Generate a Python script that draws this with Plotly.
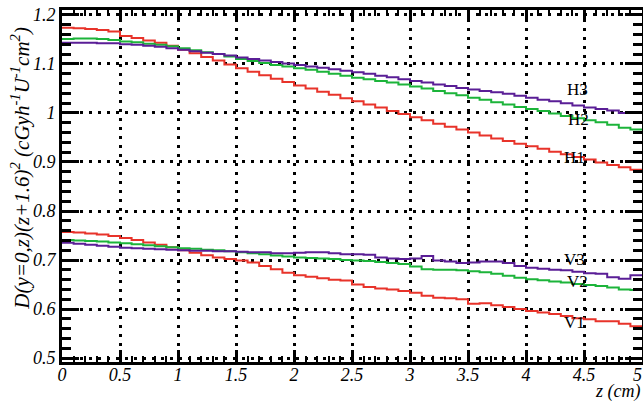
import numpy as np
import plotly.graph_objects as go

# Bin lower edges (bin width 0.1 cm) from 0 to 5 cm
z_edges = np.round(np.arange(0, 5.0001, 0.1), 2).tolist()

x_tick_vals = [0, 0.5, 1, 1.5, 2, 2.5, 3, 3.5, 4, 4.5, 5]
x_tick_text = ["0", "0.5", "1", "1.5", "2", "2.5", "3", "3.5", "4", "4.5", "5\u2002"]

H1 = [1.174, 1.173, 1.171, 1.169, 1.166, 1.157, 1.153, 1.148, 1.143, 1.137,
      1.129, 1.122, 1.114, 1.107, 1.099, 1.091, 1.084, 1.077, 1.070, 1.063,
      1.056, 1.050, 1.043, 1.037, 1.030, 1.024, 1.017, 1.011, 1.004, 0.998,
      0.991, 0.985, 0.978, 0.972, 0.966, 0.960, 0.954, 0.948, 0.943, 0.937,
      0.932, 0.927, 0.921, 0.916, 0.910, 0.905, 0.899, 0.894, 0.889, 0.884]
H2 = [1.151, 1.152, 1.152, 1.151, 1.149, 1.146, 1.144, 1.141, 1.139, 1.136,
      1.132, 1.128, 1.124, 1.120, 1.115, 1.110, 1.106, 1.102, 1.098, 1.095,
      1.091, 1.088, 1.084, 1.080, 1.076, 1.072, 1.069, 1.065, 1.062, 1.058,
      1.054, 1.050, 1.045, 1.040, 1.036, 1.031, 1.027, 1.022, 1.017, 1.012,
      1.008, 1.004, 0.999, 0.994, 0.989, 0.985, 0.981, 0.976, 0.970, 0.966]
H3 = [1.143, 1.143, 1.143, 1.142, 1.142, 1.140, 1.139, 1.137, 1.135, 1.132,
      1.129, 1.126, 1.123, 1.120, 1.117, 1.113, 1.110, 1.107, 1.104, 1.101,
      1.098, 1.095, 1.092, 1.089, 1.086, 1.083, 1.080, 1.076, 1.073, 1.069,
      1.065, 1.062, 1.058, 1.055, 1.051, 1.048, 1.045, 1.042, 1.039, 1.035,
      1.031, 1.027, 1.024, 1.020, 1.015, 1.011, 1.008, 1.005, 1.000, 1.001]
V1 = [0.757, 0.756, 0.754, 0.752, 0.749, 0.745, 0.741, 0.736, 0.731, 0.726,
      0.720, 0.715, 0.710, 0.705, 0.702, 0.699, 0.695, 0.688, 0.681, 0.674,
      0.669, 0.666, 0.663, 0.660, 0.658, 0.650, 0.645, 0.642, 0.640, 0.637,
      0.633, 0.627, 0.623, 0.622, 0.620, 0.611, 0.612, 0.608, 0.604, 0.600,
      0.596, 0.593, 0.590, 0.586, 0.581, 0.579, 0.575, 0.575, 0.570, 0.565]
V2 = [0.741, 0.740, 0.739, 0.738, 0.736, 0.734, 0.732, 0.730, 0.728, 0.726,
      0.724, 0.723, 0.721, 0.720, 0.718, 0.716, 0.714, 0.712, 0.709, 0.707,
      0.705, 0.704, 0.703, 0.702, 0.700, 0.699, 0.698, 0.696, 0.694, 0.692,
      0.687, 0.681, 0.680, 0.680, 0.679, 0.677, 0.675, 0.672, 0.668, 0.664,
      0.661, 0.659, 0.656, 0.654, 0.651, 0.649, 0.647, 0.644, 0.640, 0.639]
V3 = [0.735, 0.733, 0.731, 0.729, 0.727, 0.725, 0.724, 0.723, 0.722, 0.721,
      0.720, 0.719, 0.719, 0.718, 0.718, 0.717, 0.716, 0.716, 0.714, 0.714,
      0.715, 0.716, 0.716, 0.714, 0.712, 0.712, 0.711, 0.705, 0.703, 0.702,
      0.703, 0.708, 0.699, 0.697, 0.694, 0.695, 0.697, 0.697, 0.694, 0.688,
      0.684, 0.682, 0.680, 0.679, 0.676, 0.673, 0.672, 0.665, 0.662, 0.669]

series_names = ["H1", "H2", "H3", "V1", "V2", "V3"]
series_vals = [H1, H2, H3, V1, V2, V3]
series_colors = ["#e8332a", "#1cb43a", "#5a1e96", "#e8332a", "#1cb43a", "#5a1e96"]

# label anchor (z, value) for the text labels
label_pos = {"H3": (4.44, 1.048), "H2": (4.45, 0.986), "H1": (4.42, 0.910),
             "V3": (4.42, 0.701), "V2": (4.44, 0.656), "V1": (4.42, 0.573)}

serif = "Liberation Serif"

fig = go.Figure()
for name, vals, col in zip(series_names, series_vals, series_colors):
    fig.add_trace(go.Scatter(
        x=z_edges, y=vals + [vals[-1]], mode="lines",
        line=dict(shape="hv", color=col, width=2),
        name=name, showlegend=False, cliponaxis=True))
    lx, ly = label_pos[name]
    fig.add_annotation(x=lx, y=ly, text=name, showarrow=False,
                       font=dict(family=serif, size=17, color="black"),
                       xanchor="center", yanchor="middle")

axis_common = dict(
    showline=True, linecolor="black", linewidth=3, mirror="ticks",
    ticks="inside", tickcolor="black", tickwidth=2.5,
    showgrid=True, gridcolor="black", gridwidth=2.5, griddash="3px,6px",
    zeroline=False, automargin=False, ticklabeloverflow="allow",
    tickfont=dict(family=serif, size=18, color="black", style="italic"),
)

fig.update_xaxes(range=[0, 5], tickvals=x_tick_vals, ticktext=x_tick_text,
                 ticklen=12, ticklabelstandoff=-6,
                 minor=dict(dtick=0.1, ticks="inside", ticklen=6,
                            tickcolor="black", tickwidth=2, showgrid=False),
                 **axis_common)
fig.update_yaxes(range=[0.492, 1.210], dtick=0.1, tick0=0.5, ticklen=17,
                 minor=dict(dtick=0.02, ticks="inside", ticklen=9,
                            tickcolor="black", tickwidth=2.5, showgrid=False),
                 tickformat="~g",
                 **axis_common)

fig.add_annotation(
    xref="paper", yref="paper", x=-0.072, y=0.55,
    text="D(y=0,z)(z+1.6)<sup>2</sup> (cGyh<sup>-1</sup>U<sup>-1</sup>cm<sup>2</sup>)",
    textangle=-90, showarrow=False, xanchor="center", yanchor="middle",
    font=dict(family=serif, size=21, color="black", style="italic"))
fig.add_annotation(
    xref="paper", yref="paper", x=1.0, y=-0.118, text="z (cm)",
    showarrow=False, xanchor="right", yanchor="bottom",
    font=dict(family=serif, size=18, color="black", style="italic"))

fig.update_layout(
    width=643, height=403,
    margin=dict(l=62, r=1, t=10, b=41, autoexpand=False),
    plot_bgcolor="white", paper_bgcolor="white",
)

fig.write_html(
    "out.html",
    config={"displayModeBar": False},
    post_script="document.body.style.margin='0';document.body.style.padding='0';"
                "document.body.style.overflow='hidden';",
)
